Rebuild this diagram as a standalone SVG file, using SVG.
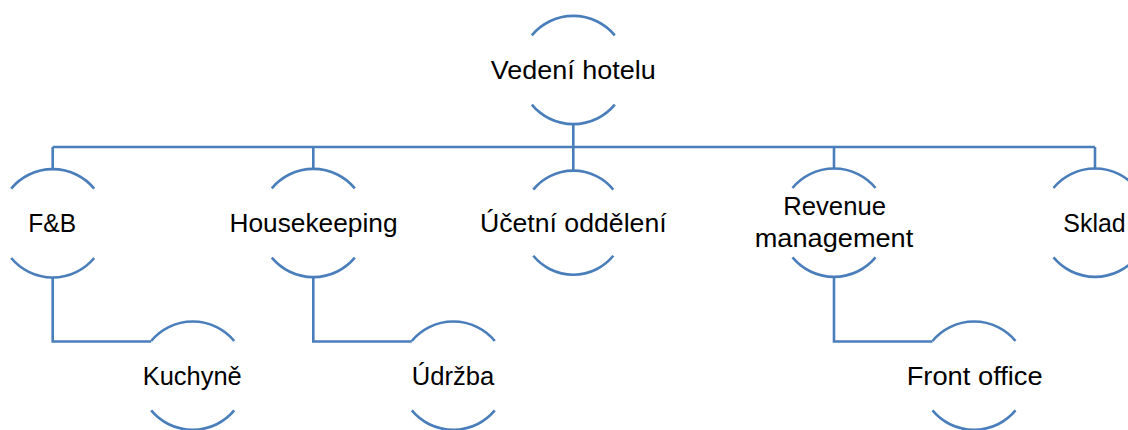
<svg xmlns="http://www.w3.org/2000/svg" width="1128" height="430" viewBox="0 0 1128 430">
<style>
.arc{fill:none;stroke:#4a7ebb;stroke-width:2.6}
.con{fill:none;stroke:#4a7ebb;stroke-width:2.6}
text{font-family:"Liberation Sans",Arial,sans-serif;font-size:26px;fill:#000;text-anchor:middle}
</style>
<rect width="1128" height="430" fill="#fff"/>
<g id="connectors">
<path class="con" d="M573.3,124 V171.5 M52.7,147 H1095 M52.7,147 V169.3 M313.3,147 V169.3 M834,147 V169.3 M1095,147 V169.3"/>
<path class="con" d="M52.7,277 V341.5 H151.2"/>
<path class="con" d="M313.3,277 V341.5 H411.8"/>
<path class="con" d="M834,277 V341.5 H932.5"/>
</g>
<g id="n-vedeni">
<path class="arc" d="M531.8,35.3 A54,54 0 0 1 614.8,35.3 M531.8,104.7 A54,54 0 0 0 614.8,104.7"/>
<text x="573.3" y="79" textLength="165" lengthAdjust="spacingAndGlyphs">Vedení hotelu</text>
</g>
<g id="n-fb">
<path class="arc" d="M11.2,188.6 A54,54 0 0 1 94.2,188.6 M11.2,258 A54,54 0 0 0 94.2,258"/>
<text x="52.2" y="231.5" textLength="47.7" lengthAdjust="spacingAndGlyphs">F&amp;B</text>
</g>
<g id="n-housekeeping">
<path class="arc" d="M271.8,188.3 A54,54 0 0 1 354.8,188.3 M271.8,257.7 A54,54 0 0 0 354.8,257.7"/>
<text x="313.5" y="231.5" textLength="168" lengthAdjust="spacingAndGlyphs">Housekeeping</text>
</g>
<g id="n-ucetni">
<path class="arc" d="M533.3,189.6 A51.7,51.7 0 0 1 613.3,189.6 M533.3,255.8 A51.7,51.7 0 0 0 613.3,255.8"/>
<text x="573.3" y="231.5" textLength="186.7" lengthAdjust="spacingAndGlyphs">Účetní oddělení</text>
</g>
<g id="n-revenue">
<path class="arc" d="M792.5,188 A54,54 0 0 1 875.5,188 M792.5,257.4 A54,54 0 0 0 875.5,257.4"/>
<text x="834.6" y="215" textLength="102.7" lengthAdjust="spacingAndGlyphs">Revenue</text>
<text x="834" y="247.3" textLength="158.6" lengthAdjust="spacingAndGlyphs">management</text>
</g>
<g id="n-sklad">
<path class="arc" d="M1053.5,188 A54,54 0 0 1 1136.5,188 M1053.5,257.4 A54,54 0 0 0 1136.5,257.4"/>
<text x="1094.5" y="231.5" textLength="62.4" lengthAdjust="spacingAndGlyphs">Sklad</text>
</g>
<g id="n-kuchyne">
<path class="arc" d="M151.2,341 A54,54 0 0 1 234.2,341 M151.2,410.4 A54,54 0 0 0 234.2,410.4"/>
<text x="192.2" y="385" textLength="99" lengthAdjust="spacingAndGlyphs">Kuchyně</text>
</g>
<g id="n-udrzba">
<path class="arc" d="M411.8,341 A54,54 0 0 1 494.8,341 M411.8,410.4 A54,54 0 0 0 494.8,410.4"/>
<text x="453" y="385" textLength="82.6" lengthAdjust="spacingAndGlyphs">Údržba</text>
</g>
<g id="n-front">
<path class="arc" d="M932.5,341 A54,54 0 0 1 1015.5,341 M932.5,410.4 A54,54 0 0 0 1015.5,410.4"/>
<text x="974.7" y="385" textLength="136" lengthAdjust="spacingAndGlyphs">Front office</text>
</g>
</svg>
